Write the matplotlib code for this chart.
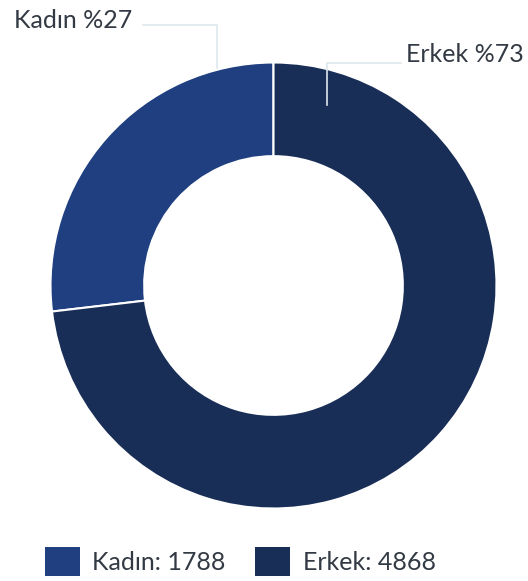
import matplotlib.pyplot as plt

labels = ['Kadın', 'Erkek']
values = [1788, 4868]
colors = ['#1f3f80', '#192e57']

W, H = 528, 581
plt.rcParams['font.family'] = ['Lato', 'DejaVu Sans']

fig = plt.figure(figsize=(W / 100, H / 100), dpi=100)
ax = fig.add_axes([0, 0, 1, 1])

cx, cy, r = 273.5, 285.5, 223
# y axis is inverted below, so start at -90 and go clockwise in data coords
wedges, _ = ax.pie(values, colors=colors, startangle=-90, counterclock=False,
                   center=(cx, cy), radius=r, frame=True,
                   wedgeprops=dict(width=r * 0.42, edgecolor='white', linewidth=1.5))
ax.set_xlim(0, W)
ax.set_ylim(H, 0)
ax.set_aspect('equal')
ax.axis('off')

total = sum(values)
pct = [round(v / total * 100) for v in values]
line_c = '#dce8ee'
txt_c = '#333a44'

# Kadın label
ax.plot([143, 217, 217], [25, 25, 68], color=line_c, lw=1.2)
ax.text(132, 21, f'{labels[0]} %{pct[0]}', ha='right', va='center', fontsize=18, color=txt_c)
# Erkek label
ax.plot([327, 327, 401], [105, 63, 63], color=line_c, lw=1.2)
ax.text(406, 55, f'{labels[1]} %{pct[1]}', ha='left', va='center', fontsize=18, color=txt_c)

leg = ax.legend(wedges, [f'{l}: {v}' for l, v in zip(labels, values)],
                loc='lower center', bbox_to_anchor=(0.455, -0.03), ncol=2, frameon=False,
                fontsize=18, handlelength=1.4, handleheight=1.4, handletextpad=0.5,
                columnspacing=1.2, labelcolor=txt_c)
for h in leg.legend_handles:
    h.set_edgecolor('none')

fig.savefig('out.png', dpi=100)
